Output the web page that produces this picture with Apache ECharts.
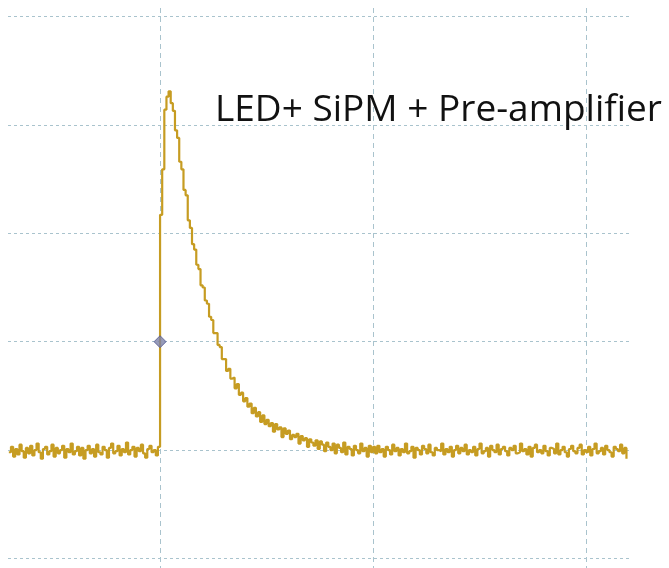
<!DOCTYPE html>
<html>
<head>
<meta charset="utf-8">
<script src="https://cdn.jsdelivr.net/npm/echarts@6/dist/echarts.min.js"></script>
<style>html,body{margin:0;padding:0;background:#fff}#c{width:669px;height:568px}</style>
</head>
<body>
<div id="c"></div>
<script>
// Time axis: 100 units per division, trigger at 0. Vertical: 100 units per division, baseline 0.
const sampleStart = -71;
const sampleStep = 1;
const preTrigger = [
  -2,3,-6,1,-4,5,-1,-7,2,-3,
  4,-5,0,6,-2,-8,1,3,-4,-1,
  5,-6,2,-3,0,4,-7,1,-2,6,
  -4,-1,3,-5,2,-8,0,4,-3,1,
  -6,5,-2,-4,3,0,-7,2,6,-3,
  -1,4,-5,1,-2,7,-4,0,3,-6,
  2,-1,5,-3,-7,1,4,-2,0,-5,
  3
];
const pulse = [
  217,259,314,326,331,320,313,295,288,266,
  259,240,235,212,205,190,185,171,167,152,
  150,138,135,123,120,108,108,97,95,84,
  84,73,75,66,67,57,61,51,53,45,
  48,40,43,34,39,31,35,26,32,24,
  28,22,25,17,24,19,21,12,20,15,
  18,10,14,12,15,6,13,9,11,3,
  10,7,4,9,1,8,5,-1,7,3,
  0,6,-3,5,2,-2,7,-4,3,1,
  -5,4,0,-3,6,-1,2,-6,4,-2,
  3
];
const postPulse = [
  -3,4,-2,1,-6,3,0,-4,5,-1,
  2,-5,1,-2,6,-3,-1,3,-7,2,
  0,-4,4,1,-3,5,-2,-5,2,0,
  -1,6,-4,1,-2,3,-6,0,4,-3,
  2,-1,5,-4,0,-2,3,-5,1,6,
  -3,-1,2,-6,4,0,-2,5,-4,1,
  3,-1,-5,2,0,4,-3,-2,6,-1,
  1,-4,3,-6,2,5,-2,0,-3,4,
  -1,-5,2,1,-3,6,-4,0,3,-2,
  -6,1,4,-1,-3,2,5,-4,0,-2,
  3,-5,1,6,-3,-1,2,-4,4,0,
  -2,-6,3,1,-1,5,-3,2,-8
];
const triggerMarker = [[0, 100]];
const label = 'LED+ SiPM + Pre-amplifier';
const yTicks = [-100, 0, 100, 200, 300, 400];
const xDivTicks = [0, 1, 2];

const samples = preTrigger.concat(pulse, postPulse);
const traceData = samples.map((v, i) => [sampleStart + i * sampleStep, v]);

const gridColor = '#a9c3cd';
const chart = echarts.init(document.getElementById('c'), null, {renderer: 'canvas'});
chart.setOption({
  animation: false,
  backgroundColor: '#ffffff',
  grid: [
    {left: 8, right: 37, top: 16.5, bottom: 9.5},
    {left: 160, right: 83, top: 8, bottom: 0}
  ],
  xAxis: [
    {gridIndex: 0, type: 'value', min: -71.4, max: 221.6, show: false, splitLine: {show: false}},
    {gridIndex: 1, type: 'value', min: xDivTicks[0], max: xDivTicks[xDivTicks.length - 1], interval: 1,
      axisLine: {show: false}, axisTick: {show: false}, axisLabel: {show: false},
      splitLine: {show: true, lineStyle: {color: gridColor, type: [5, 4], width: 1}}}
  ],
  yAxis: [
    {gridIndex: 0, type: 'value', min: yTicks[0], max: yTicks[yTicks.length - 1], interval: 100,
      axisLine: {show: false}, axisTick: {show: false}, axisLabel: {show: false},
      splitLine: {show: true, lineStyle: {color: gridColor, type: [3, 3], width: 1}}},
    {gridIndex: 1, type: 'value', min: 0, max: 1, show: false, splitLine: {show: false}}
  ],
  graphic: [{
    type: 'text', left: 215, top: 92, z: 10,
    style: {text: label, font: '500 37px "Open Sans", sans-serif', fill: '#111'}
  }],
  series: [
    {type: 'line', xAxisIndex: 0, yAxisIndex: 0, data: traceData, step: 'end',
      showSymbol: false, symbol: 'none', lineStyle: {color: '#c69c22', width: 2.2}, z: 3},
    {type: 'scatter', xAxisIndex: 0, yAxisIndex: 0, data: triggerMarker, symbol: 'diamond', symbolSize: 12,
      itemStyle: {color: '#7d82a8', borderColor: '#4d5290', borderWidth: 1}, z: 5}
  ]
});
</script>
</body>
</html>
